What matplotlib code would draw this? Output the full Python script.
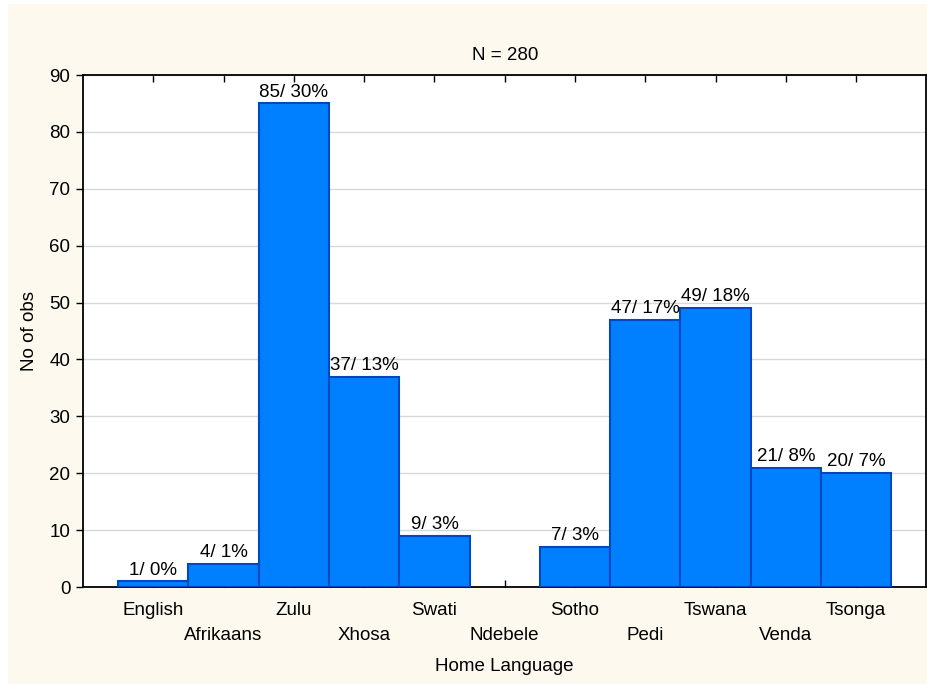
import matplotlib
matplotlib.use("Agg")
import matplotlib.pyplot as plt
from matplotlib.patches import Rectangle

categories = ["English", "Afrikaans", "Zulu", "Xhosa", "Swati", "Ndebele",
              "Sotho", "Pedi", "Tswana", "Venda", "Tsonga"]
counts = [1, 4, 85, 37, 9, 0, 7, 47, 49, 21, 20]
percents = ["0%", "1%", "30%", "13%", "3%", "", "3%", "17%", "18%", "8%", "7%"]
yticks = [0, 10, 20, 30, 40, 50, 60, 70, 80, 90]

plt.rcParams['font.family'] = ['Liberation Sans', 'DejaVu Sans']
FS = 13.5

fig = plt.figure(figsize=(9.28, 6.84), dpi=100)
fig.patch.set_facecolor('white')
fig.patches.append(Rectangle((8/928, -0.01), 1.02 - 8/928, 1.01 - 4/684,
                             transform=fig.transFigure, facecolor='#FDF9EF',
                             edgecolor='none', zorder=-10))

ax = fig.add_axes([83/928, 97/684, (926.5-83)/928, (587-75)/684])
ax.set_facecolor('white')

x = list(range(len(categories)))
bars = ax.bar(x, counts, width=1.0, color='#0080FF', edgecolor='#0048C0',
              linewidth=[1.5 if c > 0 else 0 for c in counts], zorder=3)
labels = [f"{c}/ {p}" if c > 0 else "" for c, p in zip(counts, percents)]
ax.bar_label(bars, labels=labels, padding=2, fontsize=FS, zorder=4)

ax.set_xlim(-1, len(categories))
ax.set_ylim(0, 90)
ax.set_yticks(yticks)
ax.yaxis.grid(True, color='#D8D8D8', linewidth=1.0, zorder=0)
ax.set_axisbelow(True)

ax.set_xticks(x)
ax.set_xticklabels(categories, fontsize=FS)
ax.tick_params(axis='x', direction='in', length=5, top=True, width=1, pad=10.5)
ax.tick_params(axis='y', direction='out', length=5, width=1, labelsize=FS, pad=4)
for i, t in enumerate(ax.xaxis.get_major_ticks()):
    if i % 2 == 1:
        t.set_pad(29)

for s in ax.spines.values():
    s.set_linewidth(1.3)
    s.set_color('black')

ax.set_title("N = 280", fontsize=FS, pad=11)
ax.set_xlabel("Home Language", fontsize=FS, labelpad=10)
ax.set_ylabel("No of obs", fontsize=FS, labelpad=8)

fig.savefig("out.png", dpi=100)
